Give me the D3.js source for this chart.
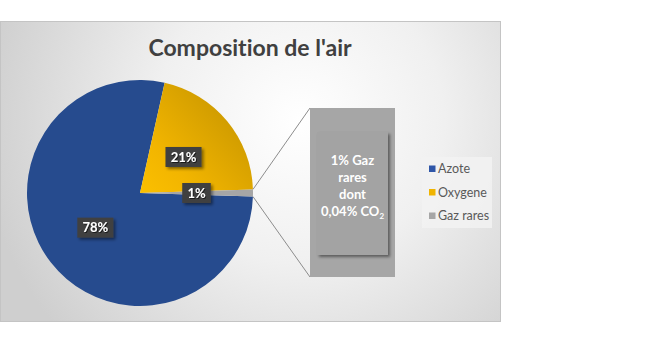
<!DOCTYPE html>
<html>
<head>
<meta charset="utf-8">
<script src="https://cdn.jsdelivr.net/npm/d3@7"></script>
<style>
  html, body { margin: 0; padding: 0; background: #fff; }
  svg { display: block; font-family: Lato, "Open Sans", sans-serif; font-variant-ligatures: none; }
</style>
</head>
<body>
<div id="chart"></div>
<script>
const categories = ["Azote", "Oxygene", "Gaz rares"];
const values = [78, 21, 1];
const labels = ["78%", "21%", "1%"];
const colors = ["#2f5aad", "#f0b400", "#a6a6a6"];
const barLines = ["1% Gaz", "rares", "dont", "0,04% CO"];

const width = 650, height = 343;
const frame = { x: 0.5, y: 21.5, w: 500, h: 300 };
const cx = 140, cy = 193, R = 113;

const svg = d3.select("#chart").append("svg")
  .attr("width", width)
  .attr("height", height);

const defs = svg.append("defs");

const bg = defs.append("radialGradient")
  .attr("id", "bg")
  .attr("gradientUnits", "userSpaceOnUse")
  .attr("cx", 300).attr("cy", 120).attr("r", 320);
bg.append("stop").attr("offset", "0%").attr("stop-color", "#ffffff");
bg.append("stop").attr("offset", "45%").attr("stop-color", "#f0f0f0");
bg.append("stop").attr("offset", "100%").attr("stop-color", "#cfcfcf");

const gBlue = defs.append("linearGradient")
  .attr("id", "gBlue")
  .attr("gradientUnits", "userSpaceOnUse")
  .attr("x1", cx - R * 0.5).attr("y1", cy - R * 0.9)
  .attr("x2", cx + R * 0.5).attr("y2", cy + R * 0.5);
gBlue.append("stop").attr("offset", "0%").attr("stop-color", "#264b8e");
gBlue.append("stop").attr("offset", "100%").attr("stop-color", "#3b6dcc");

const gGold = defs.append("linearGradient")
  .attr("id", "gGold")
  .attr("gradientUnits", "userSpaceOnUse")
  .attr("x1", cx + 10).attr("y1", cy)
  .attr("x2", cx + 110).attr("y2", cy - 90);
gGold.append("stop").attr("offset", "0%").attr("stop-color", "#ffc400");
gGold.append("stop").attr("offset", "45%").attr("stop-color", "#f2b500");
gGold.append("stop").attr("offset", "100%").attr("stop-color", "#d09c00");

const shadow = defs.append("filter").attr("id", "shadow")
  .attr("x", "-20%").attr("y", "-20%").attr("width", "150%").attr("height", "150%");
shadow.append("feDropShadow")
  .attr("dx", 2).attr("dy", 2).attr("stdDeviation", 1.8)
  .attr("flood-color", "#000").attr("flood-opacity", 0.45);

const textShadow = defs.append("filter").attr("id", "tshadow");
textShadow.append("feDropShadow")
  .attr("dx", 1).attr("dy", 1).attr("stdDeviation", 0.6)
  .attr("flood-color", "#000").attr("flood-opacity", 0.6);

// chart area
svg.append("rect")
  .attr("x", frame.x).attr("y", frame.y)
  .attr("width", frame.w).attr("height", frame.h)
  .attr("fill", "url(#bg)")
  .attr("stroke", "#c4c4c4");

svg.append("text")
  .attr("x", 250).attr("y", 56)
  .attr("text-anchor", "middle")
  .attr("font-size", 23)
  .attr("font-weight", "bold")
  .attr("fill", "#404040")
  .text("Composition de l'air");

// pie: the last slice is centred on 3 o'clock, like Excel's bar of pie
const total = d3.sum(values);
const lastMid = (total - values[values.length - 1] / 2) / total * 2 * Math.PI;
const start = Math.PI / 2 - lastMid;
const pie = d3.pie().sort(null).startAngle(start).endAngle(start + 2 * Math.PI);
const arcs = pie(values);
const arc = d3.arc().innerRadius(0).outerRadius(R);
const fills = ["url(#gBlue)", "url(#gGold)", colors[2]];

const gPie = svg.append("g").attr("transform", `translate(${cx},${cy})`);
gPie.selectAll("path")
  .data(arcs)
  .join("path")
  .attr("d", arc)
  .attr("fill", (d, i) => fills[i]);

// secondary bar
const bar = { x0: 310, x1: 395 };
const yBar = d3.scaleLinear().domain([0, values[2]]).range([277, 108]);

const gz = arcs[2];
const pt = a => [cx + R * Math.sin(a), cy - R * Math.cos(a)];
const pA = pt(gz.startAngle), pB = pt(gz.endAngle);
svg.append("line")
  .attr("x1", pA[0]).attr("y1", pA[1])
  .attr("x2", bar.x0).attr("y2", yBar(values[2]))
  .attr("stroke", "#8c8c8c").attr("stroke-width", 1);
svg.append("line")
  .attr("x1", pB[0]).attr("y1", pB[1])
  .attr("x2", bar.x0).attr("y2", yBar(0))
  .attr("stroke", "#8c8c8c").attr("stroke-width", 1);

svg.append("rect")
  .attr("x", bar.x0).attr("y", yBar(values[2]))
  .attr("width", bar.x1 - bar.x0)
  .attr("height", yBar(0) - yBar(values[2]))
  .attr("fill", colors[2]);

svg.append("rect")
  .attr("x", 317).attr("y", 132)
  .attr("width", 71).attr("height", 123)
  .attr("fill", "#a3a3a3")
  .attr("filter", "url(#shadow)");

const barText = svg.append("text")
  .attr("text-anchor", "middle")
  .attr("font-size", 13)
  .attr("font-weight", "bold")
  .attr("fill", "#fff");
barLines.forEach((l, i) => {
  const t = barText.append("tspan")
    .attr("x", 352.5).attr("y", 165 + i * 17)
    .text(l);
  if (i === barLines.length - 1) {
    t.append("tspan").attr("font-size", 8).attr("dy", 3).text("2");
  }
});

// data labels
const lblArc = d3.arc().innerRadius(0).outerRadius(R);
arcs.forEach((d, i) => {
  const [lx, ly] = lblArc.centroid(d);
  const g = svg.append("g").attr("transform", `translate(${cx + lx},${cy + ly})`);
  const box = g.append("rect").attr("fill", "#404040").attr("filter", "url(#shadow)");
  const t = g.append("text")
    .attr("text-anchor", "middle")
    .attr("dy", "0.36em")
    .attr("font-size", 13)
    .attr("font-weight", "bold")
    .attr("fill", "#fff")
    .attr("filter", "url(#tshadow)")
    .text(labels[i]);
  const bb = t.node().getBBox();
  box.attr("x", -bb.width / 2 - 5).attr("y", -10)
    .attr("width", bb.width + 10).attr("height", 20);
});

// legend
const legend = svg.append("g");
legend.append("rect")
  .attr("x", 422).attr("y", 157)
  .attr("width", 70).attr("height", 71)
  .attr("fill", "#f2f2f2").attr("fill-opacity", 0.85);
const legY = d3.scalePoint().domain(categories).range([169, 216]);
const legFill = ["#2f56a8", "#f0b400", colors[2]];
categories.forEach((c, i) => {
  legend.append("rect")
    .attr("x", 429).attr("y", legY(c) - 3.5)
    .attr("width", 6.5).attr("height", 6.5)
    .attr("fill", legFill[i]);
  legend.append("text")
    .attr("x", 438).attr("y", legY(c))
    .attr("dy", "0.35em")
    .attr("font-size", 12.5)
    .attr("fill", "#595959")
    .text(c);
});
</script>
</body>
</html>
